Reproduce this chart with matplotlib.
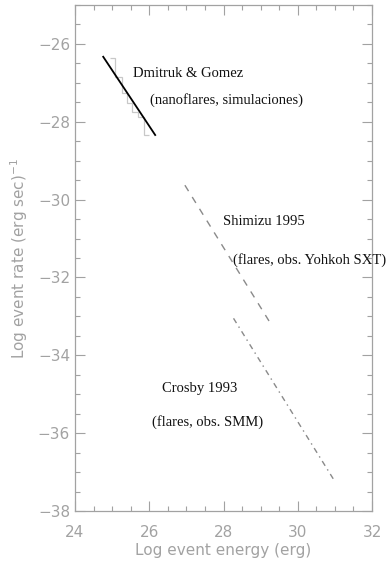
import matplotlib
matplotlib.use('Agg')
import matplotlib.pyplot as plt
from matplotlib.ticker import MultipleLocator

# Dmitruk & Gomez (simulaciones): recta y histograma escalonado
dg_x = [24.76, 26.16]
dg_y = [-26.33, -28.34]
dg_edges = [24.94, 25.08, 25.26, 25.39, 25.53, 25.71, 25.87, 26.0]
dg_vals = [-26.37, -26.84, -27.27, -27.53, -27.74, -27.87, -28.34]

# Shimizu 1995 (Yohkoh SXT)
sh_x = [26.96, 29.26]
sh_y = [-29.63, -33.17]

# Crosby 1993 (SMM)
cr_x = [28.27, 30.98]
cr_y = [-33.05, -37.21]

xticks = [24, 26, 28, 30, 32]
yticks = [-38, -36, -34, -32, -30, -28, -26]

axis_gray = '#a2a2a2'
serif = ['Liberation Serif', 'DejaVu Serif']

fig = plt.figure(figsize=(3.91, 5.63), dpi=100)
ax = fig.add_axes([75 / 391, 1 - 511 / 563, 297 / 391, 506 / 563])

# histograma gris claro
ax.stairs(dg_vals, dg_edges, baseline=None, color='#c8c8c8', lw=0.9)
ax.plot(dg_x, dg_y, color='black', lw=1.3)
ax.plot(sh_x, sh_y, color='#8a8a8a', lw=1.0, dashes=(5, 5))
ax.plot(cr_x, cr_y, color='#8a8a8a', lw=1.0, dashes=(4, 3, 1, 3))

ax.set_xlim(24, 32)
ax.set_ylim(-38, -25)
ax.set_xticks(xticks)
ax.set_yticks(yticks)
ax.xaxis.set_minor_locator(MultipleLocator(0.5))
ax.yaxis.set_minor_locator(MultipleLocator(0.5))
ax.tick_params(which='both', direction='in', top=True, right=True,
               color=axis_gray, labelcolor=axis_gray, labelsize=11)
ax.tick_params(which='major', length=7, width=0.8)
ax.tick_params(which='minor', length=3.5, width=0.8)
ax.tick_params(axis='x', pad=10)
for s in ax.spines.values():
    s.set_color(axis_gray)
    s.set_linewidth(0.9)

ax.set_xlabel('Log event energy (erg)', color=axis_gray, fontsize=11, labelpad=2)
ax.set_ylabel('Log event rate (erg sec)$^{-1}$', color=axis_gray, fontsize=11, labelpad=6)

# etiquetas de cada curva
tk = dict(fontsize=10.5, family=serif, color='#111111', va='center')
ax.text(25.57, -26.75, 'Dmitruk & Gomez', **tk)
ax.text(26.02, -27.44, '(nanoflares, simulaciones)', **tk)
ax.text(27.99, -30.57, 'Shimizu 1995', **tk)
ax.text(28.25, -31.55, '(flares, obs. Yohkoh SXT)', **tk)
ax.text(26.34, -34.84, 'Crosby 1993', **tk)
ax.text(26.07, -35.71, '(flares, obs. SMM)', **tk)

fig.savefig('out.png', dpi=100)
